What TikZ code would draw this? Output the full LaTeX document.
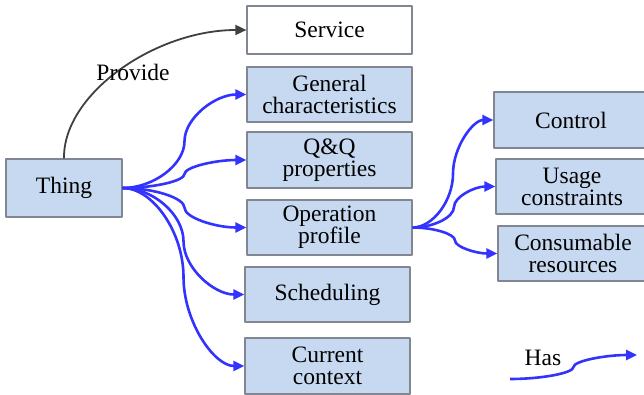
\documentclass[tikz,border=0pt]{standalone}
\usepackage{fontspec}
\setmainfont{Liberation Serif}
\usetikzlibrary{arrows.meta,calc}
\definecolor{boxfill}{RGB}{198,217,240}
\definecolor{boxline}{RGB}{128,134,146}
\definecolor{hasblue}{RGB}{51,51,255}
\definecolor{provgray}{RGB}{64,64,64}
\newcommand{\bigserif}{\fontsize{23.5}{22}\selectfont}
\begin{document}
\begin{tikzpicture}[x=1pt, y=-1pt, font=\bigserif, line join=round,
		box/.style={draw=boxline, line width=1.2pt, fill=boxfill, inner sep=0pt},
		has/.style={hasblue, line width=2.6pt, -{Triangle[length=11pt,width=10pt]}},
		provide/.style={provgray, line width=1.8pt, -{Triangle[length=11pt,width=10pt]}},
		curvy/.style={to path={let \p1=(\tikztostart), \p2=(\tikztotarget) in
			.. controls ({0.75*\x1+0.25*\x2},\y1) and ({0.5*\x1+0.5*\x2},{0.75*\y1+0.25*\y2}) .. ({0.5*\x1+0.5*\x2},{0.5*\y1+0.5*\y2})
			.. controls ({0.5*\x1+0.5*\x2},{0.25*\y1+0.75*\y2}) and ({0.25*\x1+0.75*\x2},\y2) .. (\tikztotarget)}}]
			\clip (0,0) rectangle (644,394);
			% boxes
			\node[box, fill=white, minimum width=165pt, minimum height=48pt] (service) at (329.5,30) {Service};
			\node[box, minimum width=116pt, minimum height=58pt] (thing) at (64,188) {Thing};
			\node[box, align=center, minimum width=165pt, minimum height=55pt] (gen) at (329.5,94.5) {General\\characteristics};
			\node[box, align=center, minimum width=165pt, minimum height=56pt] (qq) at (329.5,160) {Q\&Q\\properties};
			\node[box, align=center, minimum width=165pt, minimum height=55pt] (op) at (329.5,227.5) {Operation\\profile};
			\node[box, minimum width=165pt, minimum height=55pt] (sched) at (327.5,294.5) {Scheduling};
			\node[box, align=center, minimum width=165pt, minimum height=56pt] (cur) at (327.5,366) {Current\\context};
			\node[box, minimum width=154pt, minimum height=56pt] (ctrl) at (571,120) {Control};
			\node[box, align=center, minimum width=152pt, minimum height=55pt] (usage) at (572,186.5) {Usage\\constraints};
			\node[box, align=center, minimum width=150pt, minimum height=55pt] (cons) at (573,253.5) {Consumable\\resources};
			% provide
			\draw[provide] (thing.north) .. controls (63,94) and (155,30) .. (service.west);
			\node (provlbl) at (133,72) {Provide};
			% has
			\foreach \t in {gen,qq,op,sched,cur}
				\draw[has] (thing.east) to[curvy] (\t.west);
			\foreach \t in {ctrl,usage,cons}
				\draw[has] (op.east) to[curvy] (\t.west);
			% legend
			\coordinate (legA) at (510,379);
			\coordinate (legB) at (637,355);
			\draw[has] (legA) to[curvy] (legB);
			\node (haslbl) at (543,358) {Has};
		\end{tikzpicture}
\end{document}
